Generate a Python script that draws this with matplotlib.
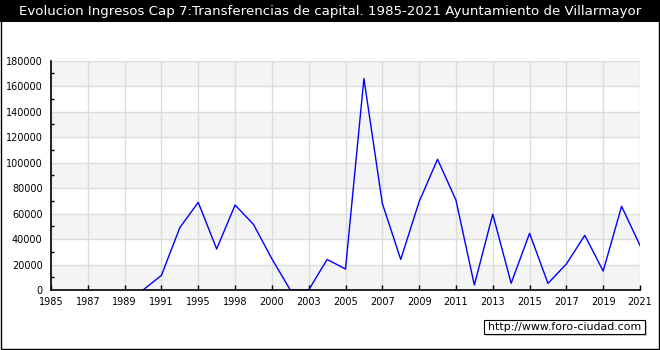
import numpy as np
import matplotlib
matplotlib.use("Agg")
import matplotlib.pyplot as plt
from matplotlib.patches import Rectangle
from matplotlib.ticker import MultipleLocator, FixedLocator

years = [1985, 1986, 1987, 1988, 1989, 1990, 1991, 1993, 1995, 1997, 1998, 1999,
         2000, 2002, 2003, 2004, 2005, 2006, 2007, 2008, 2009, 2010, 2011, 2012,
         2013, 2014, 2015, 2016, 2017, 2018, 2019, 2020, 2021]
values = [np.nan, np.nan, np.nan, np.nan, np.nan, 0, 11500, 49000, 68800, 32200,
          66700, 51500, 24500, 0, 0, 24000, 16500, 166000, 68000, 24000, 69300,
          102600, 70600, 3900, 59500, 5300, 44500, 5200, 20400, 42900, 14900,
          65700, 35000]
title = "Evolucion Ingresos Cap 7:Transferencias de capital. 1985-2021 Ayuntamiento de Villarmayor"
watermark = "http://www.foro-ciudad.com"

W, H = 660, 350
fig = plt.figure(figsize=(W / 100, H / 100), dpi=100)
fig.patch.set_facecolor("white")


def px_rect(x0, y0, x1, y1, **kw):
    """Rectangle given in pixel coords measured from top-left."""
    return Rectangle((x0 / W, 1 - y1 / H), (x1 - x0) / W, (y1 - y0) / H,
                     transform=fig.transFigure, **kw)


# title bar
fig.patches.append(px_rect(0, 0, W, 22, facecolor="black", edgecolor="none", zorder=0))
fig.text(0.5, 1 - 11.5 / H, title, color="white", ha="center", va="center",
         fontsize=9.6, family="DejaVu Sans")
# outer frame
fig.patches.append(px_rect(0.5, 0.5, 658.5, 348.5, facecolor="none", edgecolor="black",
                           linewidth=1, zorder=5))

left, right, top, bottom = 51, 640, 60.7, 290
ax = fig.add_axes([left / W, (H - bottom) / H, (right - left) / W, (bottom - top) / H])
ax.set_facecolor("white")

x = np.arange(len(years))
ax.set_xlim(0, len(years) - 1)
ax.set_ylim(0, 180000)

# alternating bands
for k, y0 in enumerate(range(0, 180000, 20000)):
    if k % 2 == 0:
        ax.axhspan(y0, y0 + 20000, color="#f4f4f4", zorder=0, linewidth=0)

tick_idx = list(range(0, len(years), 2))
ax.xaxis.set_major_locator(FixedLocator(tick_idx))
ax.set_xticklabels([str(years[i]) for i in tick_idx])
ax.yaxis.set_major_locator(MultipleLocator(20000))
ax.yaxis.set_minor_locator(MultipleLocator(10000))
ax.yaxis.set_major_formatter(matplotlib.ticker.FuncFormatter(lambda v, p: f"{int(v)}"))

ax.grid(True, which="major", color="#dcdcdc", linewidth=1, zorder=1)
ax.set_axisbelow(True)

ax.plot(x, values, color="#0000ff", linewidth=1, zorder=3)

for s in ["top", "right"]:
    ax.spines[s].set_visible(False)
for s in ["left", "bottom"]:
    ax.spines[s].set_color("black")
    ax.spines[s].set_linewidth(1.2)
    ax.spines[s].set_zorder(4)

ax.tick_params(axis="x", which="major", direction="in", length=3.6, width=1,
               color="black", labelsize=7, pad=5)
ax.tick_params(axis="y", which="major", direction="in", length=0, labelsize=7, pad=6)
ax.tick_params(axis="y", which="minor", direction="in", length=2.2, width=1, color="black")
for lab in ax.get_xticklabels() + ax.get_yticklabels():
    lab.set_family("DejaVu Sans")

# watermark box with shadow
fig.patches.append(px_rect(486, 322, 647, 336, facecolor="#d0d0d0", edgecolor="none", zorder=6))
fig.patches.append(px_rect(484, 320, 645, 334, facecolor="white", edgecolor="black",
                           linewidth=0.8, zorder=7))
fig.text(564.5 / W, 1 - 327 / H, watermark, ha="center", va="center", fontsize=7.9,
         family="DejaVu Sans", color="black", zorder=8)

fig.savefig("out.png", dpi=100)
